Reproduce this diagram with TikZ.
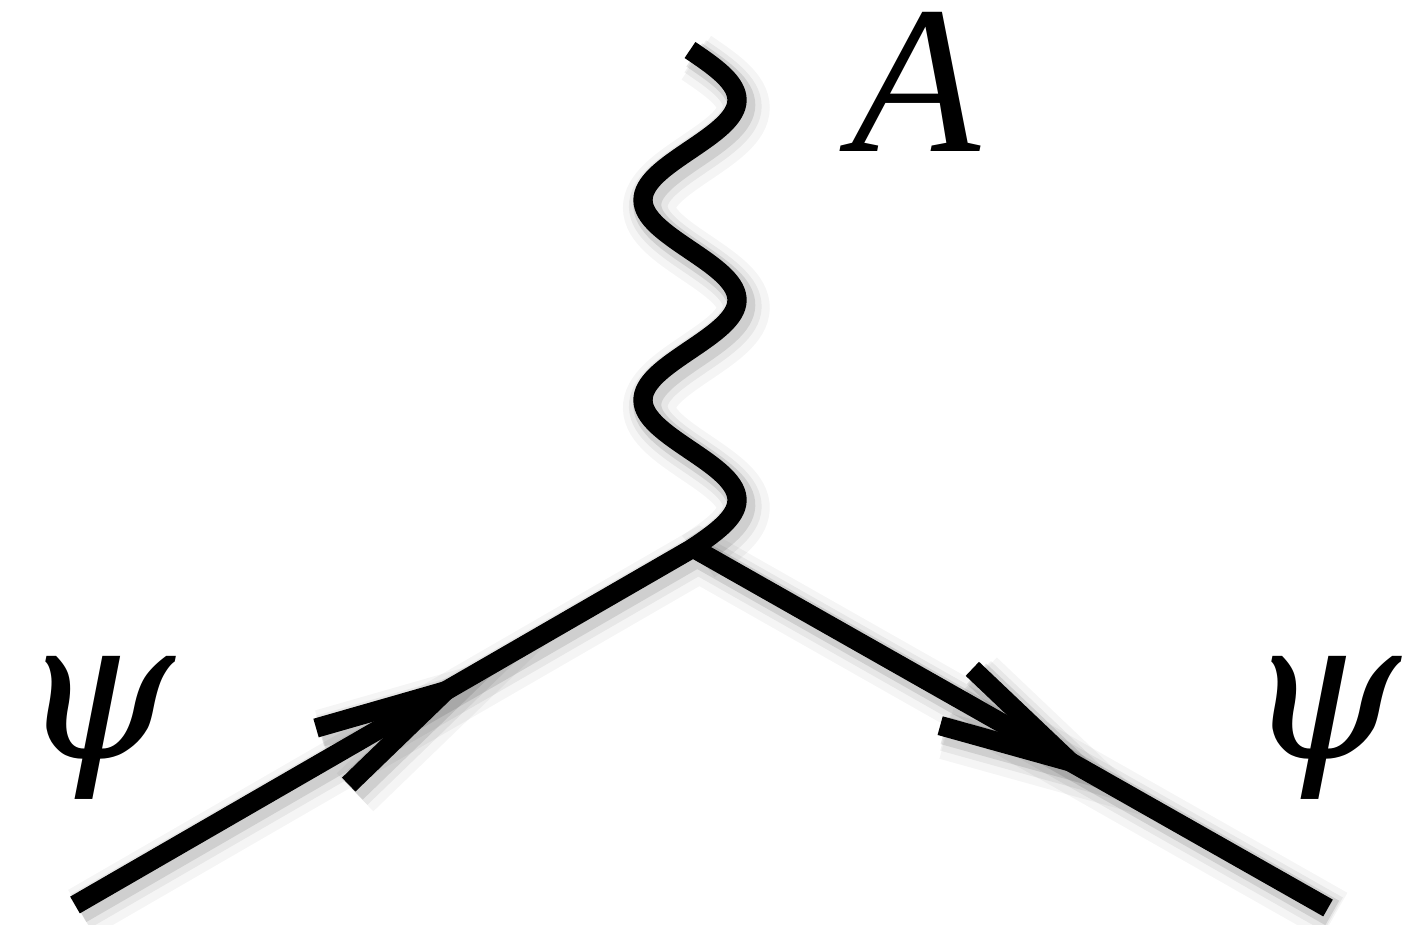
\documentclass[tikz,border=0pt]{standalone}
\usepackage{fontspec}
\newfontfamily\tms{Liberation Serif}
\newfontfamily\dvs{DejaVu Serif}
\usetikzlibrary{calc}
\tikzset{
  drop/.style={
    preaction={draw,black,opacity=.04,line width=15pt,
      transform canvas={shift={(1.8pt,-2.2pt)}}},
    preaction={draw,black,opacity=.06,line width=11pt,
      transform canvas={shift={(1.5pt,-1.8pt)}}},
    preaction={draw,black,opacity=.10,line width=8pt,
      transform canvas={shift={(1.2pt,-1.4pt)}}}},
  fermion/.style={drop,line width=5.5pt},
  photon/.style={drop,line width=5.5pt,line join=round},
  lbl/.style={inner sep=0pt,font=\tms\itshape\fontsize{60}{62}\selectfont},
  psilbl/.style={inner sep=0pt,font=\dvs\itshape\fontsize{56}{58}\selectfont}
}
\begin{document}
\begin{tikzpicture}
\useasboundingbox (0,0) rectangle (14.04,9.24);
\coordinate (in) at (0.75,0.19);
\coordinate (v) at (6.93,3.76);
\coordinate (out) at (13.28,0.16);
\coordinate (top) at (6.9,8.74);
% photon
\draw[photon] (top) plot[domain=0:4.98,samples=160,smooth]
  ({6.9+0.47*sin(180*\x)},{8.74-\x}) -- (v);
% fermion line
\draw[fermion] (in) -- (v) -- (out);
% arrows
\coordinate (tipL) at ($(in)!0.6!(v)$);
\coordinate (tipR) at ($(v)!0.594!(out)$);
\draw[fermion] ($(tipL)!1.35cm!14:(in)$) -- (tipL) -- ($(tipL)!1.35cm!-14:(in)$);
\draw[fermion] ($(tipR)!1.35cm!14:(v)$) -- (tipR) -- ($(tipR)!1.35cm!-14:(v)$);
% labels
\node[lbl] (lA) at (9.16,8.42) {A};
\node[psilbl] (lpsiL) at (0.98,1.96) {ψ};
\node[psilbl] (lpsiR) at (13.24,1.96) {ψ};
\end{tikzpicture}
\end{document}
